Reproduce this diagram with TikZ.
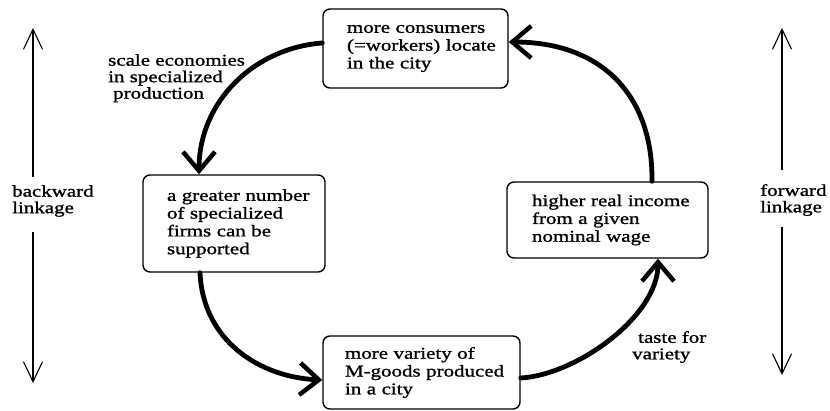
\documentclass[tikz,border=0pt]{standalone}
\usepackage{fontspec}
\setmainfont{Liberation Serif}[FakeStretch=1.27,FakeBold=1.2]
\usetikzlibrary{arrows.meta}
\begin{document}
\begin{tikzpicture}[x=1pt,y=1pt,
  box/.style={draw, line width=1.4pt, rounded corners=7pt, inner xsep=2pt, inner ysep=0pt,
    align=left, font=\fontsize{16.5}{17.8}\selectfont},
  lbl/.style={inner sep=0pt, align=left, anchor=north west, font=\fontsize{16.5}{16.5}\selectfont},
  flow/.style={line width=4.8pt, line cap=round, -{Straight Barb[length=19pt,width=32pt,line width=4.5pt]}},
  side/.style={line width=1.1pt, -{Straight Barb[length=20pt,width=19pt]}}]
\useasboundingbox (0,0) rectangle (830,-410);
% boxes
\node[box, minimum width=185pt, minimum height=79pt, text width=181pt] (top) at (415.5,-48.5)
  {\leftskip=22pt more consumers\\(=workers) locate\\in the city\par};
\node[box, minimum width=182pt, minimum height=97pt, text width=178pt] (left) at (234,-223.5)
  {\leftskip=22pt a greater number\\of specialized\\firms can be\\supported\par};
\node[box, minimum width=197pt, minimum height=73pt, text width=193pt] (bottom) at (421.5,-372.5)
  {\leftskip=20pt more variety of\\M-goods produced\\in a city\par};
\node[box, minimum width=201pt, minimum height=76pt, text width=197pt] (right) at (607.5,-220)
  {\leftskip=23pt higher real income\\from a given\\nominal wage\par};
% cycle arrows
\draw[flow] ([yshift=5.5pt]top.west) .. controls +(-68,-5) and +(0,73) .. ([xshift=-35pt]left.north);
\draw[flow] ([xshift=-34pt]left.south) .. controls +(3,-68) and +(-63,3) .. ([yshift=-7.5pt]bottom.west);
\draw[flow] ([yshift=-5.5pt]bottom.east) .. controls +(55,3) and +(0,-58) .. ([xshift=50.5pt]right.south);
\draw[flow] ([xshift=44.5pt]right.north) .. controls +(1,87) and +(92,0) .. ([yshift=6.5pt]top.east);
% labels
\node[lbl] (scale) at (108,-54) {scale economies\\in specialized\\\hspace*{5pt}production};
\node[lbl] (taste) at (632,-331) {\hspace*{6pt}taste for\\variety};
\node[lbl] (bw) at (12,-185) {backward\\linkage};
\node[lbl] (fw) at (760,-184) {forward\\linkage};
% side arrows
\coordinate (lu1) at (33,-177); \coordinate (lu2) at (33,-28);
\coordinate (ld1) at (33,-232); \coordinate (ld2) at (33,-383);
\coordinate (ru1) at (782,-170); \coordinate (ru2) at (782,-28);
\coordinate (rd1) at (782,-227); \coordinate (rd2) at (782,-375);
\draw[side] (lu1) -- (lu2);
\draw[side] (ld1) -- (ld2);
\draw[side] (ru1) -- (ru2);
\draw[side] (rd1) -- (rd2);
\end{tikzpicture}
\end{document}
